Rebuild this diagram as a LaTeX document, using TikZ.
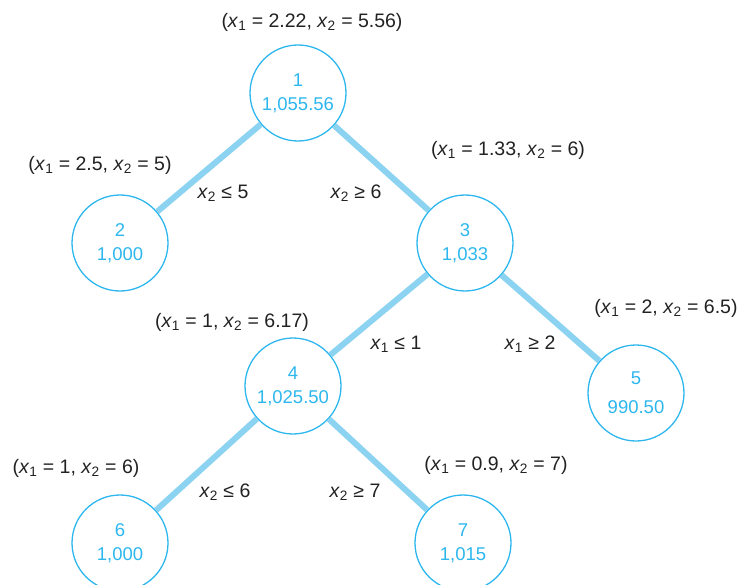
\documentclass[tikz,border=0pt]{standalone}
\usepackage{fontspec}
\setmainfont{Liberation Sans}
\usepackage{tikz}
\usetikzlibrary{positioning}
\definecolor{ringblue}{HTML}{2DB7EE}
\definecolor{edgeblue}{HTML}{8CD3F1}
\definecolor{darktext}{HTML}{222222}
\newcommand{\xv}[1]{\textit{x}\textsubscript{#1}}

\begin{document}
\begin{tikzpicture}[x=1pt,y=-1pt,
  bnode/.style={circle,draw=ringblue,line width=1.3pt,minimum size=96pt,inner sep=0pt,
    text=ringblue,align=center,font=\fontsize{18.5}{24}\selectfont},
  branch/.style={edgeblue,line width=6pt},
  sol/.style={text=darktext,font=\fontsize{19.5}{22}\selectfont},
  cut/.style={text=darktext,font=\fontsize{19.5}{22}\selectfont}]
  \useasboundingbox (0,0) rectangle (746,585);
  % nodes
  \node[bnode] (n1) at (298,93) {1\\1,055.56};
  \node[bnode] (n2) at (120,243) {2\\1,000};
  \node[bnode] (n3) at (465,243) {3\\1,033};
  \node[bnode] (n4) at (293,386) {4\\1,025.50};
  \node[bnode] (n5) at (636,393) {5\\[5pt]990.50};
  \node[bnode] (n6) at (120,543) {6\\1,000};
  \node[bnode] (n7) at (463,543) {7\\1,015};
  % branches
  \draw[branch] (n1) -- (n2);
  \draw[branch] (n1) -- (n3);
  \draw[branch] (n3) -- (n4);
  \draw[branch] (n3) -- (n5);
  \draw[branch] (n4) -- (n6);
  \draw[branch] (n4) -- (n7);
  % solutions
  \node[sol] (s1) at (312,22) {(\xv1 = 2.22, \xv2 = 5.56)};
  \node[sol] (s2) at (100,165) {(\xv1 = 2.5, \xv2 = 5)};
  \node[sol] (s3) at (508,150) {(\xv1 = 1.33, \xv2 = 6)};
  \node[sol] (s4) at (232,322) {(\xv1 = 1, \xv2 = 6.17)};
  \node[sol] (s5) at (666,308) {(\xv1 = 2, \xv2 = 6.5)};
  \node[sol] (s6) at (76,468) {(\xv1 = 1, \xv2 = 6)};
  \node[sol] (s7) at (496,465) {(\xv1 = 0.9, \xv2 = 7)};
  % constraints
  \node[cut] (c12) at (223,193) {\xv2 ≤ 5};
  \node[cut] (c13) at (356,193) {\xv2 ≥ 6};
  \node[cut] (c34) at (396,344) {\xv1 ≤ 1};
  \node[cut] (c35) at (530,344) {\xv1 ≥ 2};
  \node[cut] (c46) at (225,492) {\xv2 ≤ 6};
  \node[cut] (c47) at (355,492) {\xv2 ≥ 7};
\end{tikzpicture}
\end{document}
